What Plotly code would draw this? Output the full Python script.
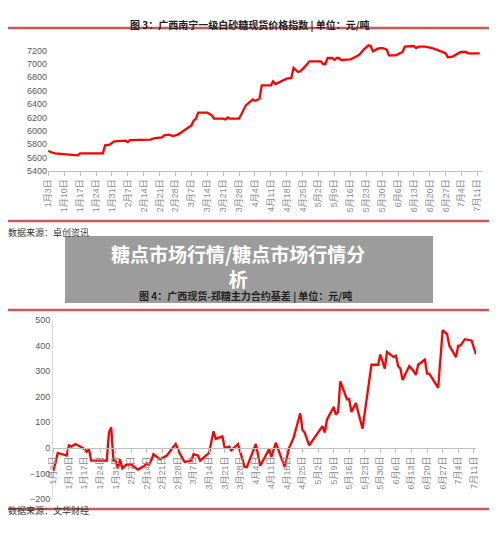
import plotly.graph_objects as go

W = 500.0
H = 537.0
OFF = 8  # page body margin

# 图3 广西南宁一级白砂糖现货价格指数
price_dates = ["01-03", "01-04", "01-06", "01-10", "01-13", "01-16", "01-17", "01-27", "01-28", "01-30",
               "02-01", "02-06", "02-07", "02-08", "02-17", "02-19", "02-22", "02-23", "02-25", "02-27",
               "03-01", "03-05", "03-07", "03-08", "03-09", "03-10", "03-14", "03-16", "03-17", "03-21",
               "03-22", "03-23", "03-24", "03-28", "03-31", "04-03", "04-04", "04-06", "04-07", "04-11",
               "04-12", "04-13", "04-16", "04-18", "04-20", "04-21", "04-23", "04-24", "04-26", "04-28",
               "05-03", "05-04", "05-05", "05-06", "05-08", "05-09", "05-10", "05-11", "05-12", "05-16",
               "05-18", "05-20", "05-22", "05-24", "05-25", "05-26", "05-28", "05-30", "06-01", "06-02",
               "06-05", "06-07", "06-08", "06-09", "06-13", "06-14", "06-15", "06-18", "06-21", "06-25",
               "06-27", "06-28", "06-30", "07-03", "07-04", "07-06", "07-07", "07-12"]
price_vals = [5700, 5680, 5660, 5645, 5635, 5630, 5660, 5660, 5780, 5790,
              5840, 5850, 5830, 5860, 5865, 5890, 5900, 5930, 5940, 5920,
              5940, 6030, 6080, 6150, 6180, 6270, 6270, 6230, 6180, 6180,
              6170, 6200, 6180, 6180, 6380, 6470, 6450, 6480, 6680, 6680,
              6740, 6700, 6750, 6780, 6790, 6940, 6880, 6890, 6960, 7040,
              7040, 7000, 7000, 7090, 7090, 7060, 7090, 7090, 7060, 7070,
              7100, 7140, 7220, 7280, 7270, 7190, 7230, 7240, 7220, 7130,
              7130, 7170, 7180, 7260, 7270, 7240, 7260, 7260, 7240, 7190,
              7160, 7100, 7110, 7170, 7180, 7180, 7160, 7160]

# 图4 广西现货-郑糖主力合约基差
basis_dates = ["01-03", "01-05", "01-09", "01-10", "01-11", "01-13", "01-15", "01-17", "01-18", "01-19",
               "01-20", "01-27", "01-28", "01-29", "01-30", "01-31", "02-01", "02-02", "02-03", "02-05",
               "02-07", "02-10", "02-13", "02-14", "02-15", "02-16", "02-17", "02-20", "02-22", "02-23",
               "02-27", "03-01", "03-03", "03-06", "03-07", "03-09", "03-10", "03-14", "03-16", "03-17",
               "03-20", "03-21", "03-23", "03-24", "03-27", "03-30", "03-31", "04-04", "04-06", "04-10",
               "04-11", "04-13", "04-17", "04-19", "04-21", "04-24", "04-25", "04-26", "04-28", "05-04",
               "05-05", "05-06", "05-09", "05-10", "05-11", "05-12", "05-15", "05-16", "05-17", "05-19",
               "05-22", "05-25", "05-26", "05-29", "05-30", "06-01", "06-02", "06-05", "06-06", "06-07",
               "06-08", "06-09", "06-12", "06-14", "06-15", "06-16", "06-19", "06-20", "06-21", "06-25",
               "06-27", "06-29", "06-30", "07-03", "07-04", "07-05", "07-07", "07-10", "07-12"]
basis_vals = [-90, -20, -30, 10, 5, 15, 5, -5, -15, -5,
              -50, -50, 60, 80, -50, -50, -80, -45, -80, -65,
              -65, -85, -70, -60, -65, -50, -25, -45, -35, -30,
              15, -25, -55, -50, -25, -30, -50, -20, 65, 35,
              45, 0, 5, -10, 15, -75, -75, 15, -70, -5,
              -35, 20, -75, 0, 40, 135, 70, 60, 10, 85,
              60, 110, 160, 130, 140, 260, 190, 190, 140, 175,
              75, 280, 325, 325, 365, 310, 375, 355, 360, 320,
              310, 265, 320, 300, 285, 325, 345, 290, 290, 235,
              460, 445, 400, 355, 400, 400, 425, 420, 365]

tick_dates = ["01-03", "01-10", "01-17", "01-24", "01-31", "02-07", "02-14", "02-21", "02-28",
              "03-07", "03-14", "03-21", "03-28", "04-04", "04-11", "04-18", "04-25", "05-02",
              "05-09", "05-16", "05-23", "05-30", "06-06", "06-13", "06-20", "06-27", "07-04", "07-11"]
tick_text = [f"{int(d[:2])}月{int(d[3:])}日" for d in tick_dates]


def full(ds):
    return ["2022-" + d for d in ds]


def px(p):
    return (p - OFF) / W


def py(p):
    return 1 - (p - OFF) / H


red_rule = "#c8585a"
tick_font = dict(family="Liberation Sans, Noto Sans CJK SC", size=9, color="#595959")
xtick_font = dict(family="Liberation Sans, Noto Sans CJK SC", size=9, color="#8c8c8c")

fig = go.Figure()
fig.add_trace(go.Scatter(x=full(price_dates), y=price_vals, mode="lines",
                         line=dict(color="#ff0000", width=2.3), xaxis="x", yaxis="y"))
fig.add_trace(go.Scatter(x=full(basis_dates), y=basis_vals, mode="lines",
                         line=dict(color="#ff0000", width=2.3), xaxis="x2", yaxis="y2"))

xcommon = dict(type="date", tickvals=full(tick_dates), ticktext=tick_text, tickangle=-90,
               tickfont=xtick_font, showgrid=False, zeroline=False, showline=True,
               linecolor="#bfbfbf", ticks="outside", tickcolor="#bfbfbf", ticklen=4,
               automargin=False)

fig.update_layout(
    width=500, height=537, margin=dict(l=0, r=0, t=0, b=0, autoexpand=False),
    paper_bgcolor="white", plot_bgcolor="white", showlegend=False,
    xaxis=dict(xcommon, domain=[px(48), px(482)], range=["2022-01-02 20:00", "2022-07-13"],
               anchor="y"),
    yaxis=dict(domain=[py(170.7), py(44)], range=[5400, 7300], tickvals=list(range(5400, 7201, 200)),
               tickfont=tick_font, showgrid=False, zeroline=False, showline=False, anchor="x",
               automargin=False),
    xaxis2=dict(xcommon, domain=[px(53), px(476)], range=["2022-01-02 20:00", "2022-07-12"],
                anchor="free", position=py(448)),
    yaxis2=dict(domain=[py(499), py(320)], range=[-200, 500], tickvals=list(range(-200, 501, 100)),
                tickfont=tick_font, showgrid=False, zeroline=False, showline=True,
                linecolor="#d9d9d9", anchor="x2", automargin=False),
)

for p in [28, 221, 310, 509]:
    fig.add_shape(type="line", xref="paper", yref="paper", x0=px(8), x1=px(489),
                  y0=py(p), y1=py(p), line=dict(color=red_rule, width=2.5))

fig.add_shape(type="rect", xref="paper", yref="paper", x0=px(65), x1=px(433),
              y0=py(303), y1=py(236), fillcolor="rgba(128,128,128,0.78)", line=dict(width=0),
              layer="above")

title_font = dict(family="Noto Sans CJK SC", size=10, color="#222222")
src_font = dict(family="Noto Sans CJK SC", size=9, color="#333333")
fig.add_annotation(text="<b>图 3：广西南宁一级白砂糖现货价格指数 | 单位：元/吨</b>", x=px(250), y=py(15),
                   xref="paper", yref="paper", showarrow=False, font=title_font)
fig.add_annotation(text="<b>图 4：广西现货-郑糖主力合约基差 | 单位：元/吨</b>", x=px(245), y=py(295),
                   xref="paper", yref="paper", showarrow=False, font=title_font)
fig.add_annotation(text="数据来源：卓创资讯", x=px(6), y=py(233), xanchor="left",
                   xref="paper", yref="paper", showarrow=False, font=src_font)
fig.add_annotation(text="数据来源：文华财经", x=px(6), y=py(519), xanchor="left",
                   xref="paper", yref="paper", showarrow=False, font=src_font)
fig.add_annotation(text="<b>糖点市场行情/糖点市场行情分<br>析</b>", x=px(238), y=py(266),
                   xref="paper", yref="paper", showarrow=False,
                   font=dict(family="Noto Sans CJK SC", size=19, color="white"))

fig.write_html("out.html")
